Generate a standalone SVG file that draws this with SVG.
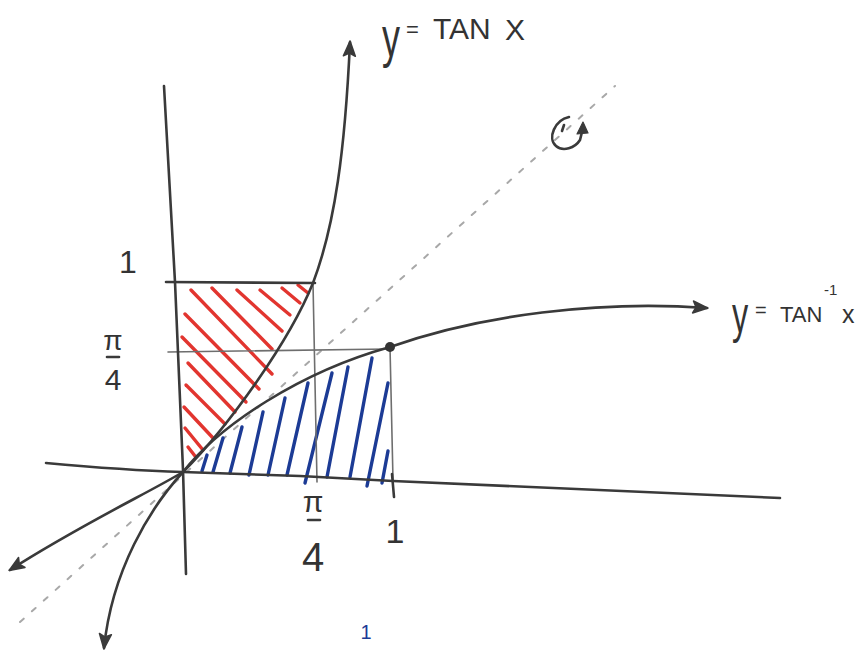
<svg xmlns="http://www.w3.org/2000/svg" width="866" height="657" viewBox="0 0 866 657">
<style>
.ink{fill:none;stroke:#3a3a3a;stroke-width:2.6;stroke-linecap:round;stroke-linejoin:round}
.thin{fill:none;stroke:#6e6e6e;stroke-width:1.6;stroke-linecap:round}
.diag{fill:none;stroke:#a8a8a8;stroke-width:2;stroke-dasharray:5 11;stroke-linecap:round}
.red line{stroke:#e2352f;stroke-width:3.4;stroke-linecap:round}
.blue line{stroke:#1c3b95;stroke-width:3.4;stroke-linecap:round}
.lbl{font-family:"Liberation Sans","DejaVu Sans",sans-serif;fill:#333}
</style>
<defs>
<marker id="ah" viewBox="-16 -8 18 16" refX="0" refY="0" markerWidth="18" markerHeight="16" markerUnits="userSpaceOnUse" orient="auto">
<path d="M1,0 L-14,-6 L-11,0 L-14,6 Z" fill="#3a3a3a" stroke="#3a3a3a" stroke-width="1.5" stroke-linejoin="round"/>
</marker>
</defs>
<rect width="866" height="657" fill="#ffffff"/>

<g id="diagonal">
<path class="diag" d="M20,622 L615,86"/>
</g>

<g id="hatch-red" class="red">
<line x1="191" y1="290" x2="272" y2="374"/>
<line x1="212" y1="288" x2="272" y2="349"/>
<line x1="237" y1="290" x2="282" y2="331"/>
<line x1="260" y1="290" x2="290" y2="315"/>
<line x1="282" y1="288" x2="300" y2="303"/>
<line x1="298" y1="285" x2="308" y2="293"/>
<line x1="185" y1="314" x2="259" y2="389"/>
<line x1="182" y1="337" x2="246" y2="402"/>
<line x1="188" y1="363" x2="235" y2="412"/>
<line x1="186" y1="385" x2="225" y2="424"/>
<line x1="184" y1="407" x2="213" y2="438"/>
<line x1="185" y1="428" x2="203" y2="450"/>
<line x1="188" y1="447" x2="195" y2="456"/>
</g>

<g id="hatch-blue" class="blue">
<line x1="202" y1="471" x2="207" y2="455"/>
<line x1="213" y1="472" x2="223" y2="438"/>
<line x1="230" y1="473" x2="242" y2="427"/>
<line x1="249" y1="475" x2="263" y2="412"/>
<line x1="268" y1="475" x2="285" y2="398"/>
<line x1="287" y1="475" x2="308" y2="383"/>
<line x1="305" y1="483" x2="332" y2="373"/>
<line x1="327" y1="477" x2="348" y2="367"/>
<line x1="350" y1="477" x2="372" y2="358"/>
<line x1="367" y1="486" x2="388" y2="383"/>
<line x1="382" y1="483" x2="388" y2="451"/>
</g>

<g id="guides">
<path class="ink" d="M166,282 L315,283"/>
<path class="thin" d="M168,352 L388,349"/>
<path class="thin" d="M313,283 L317,482"/>
<path class="thin" d="M390,347 L393,480"/>
<path class="ink" d="M392,474 L394,497"/>
</g>

<g id="axes">
<path class="ink" d="M164,86 L175,282 L183,470 L186,574"/>
<path class="ink" d="M46,463 C100,468 150,471 183,472 L300,476 L393,481 L780,498"/>
</g>

<g id="connectors">
<path id="tan-upper" class="ink" d="M183,472 C230,425 290,340 313,283 C335,225 345,150 350,42" marker-end="url(#ah)"/>
<path id="tan-lower" class="ink" d="M183,472 C150,508 112,570 104,648" marker-end="url(#ah)"/>
<path id="arctan-upper" class="ink" d="M183,472 C220,425 300,372 390,347 C480,315 600,300 707,308" marker-end="url(#ah)"/>
<path id="arctan-lower" class="ink" d="M183,472 C150,492 80,525 10,570" marker-end="url(#ah)"/>
</g>

<g id="point">
<circle cx="390" cy="347" r="5" fill="#333"/>
</g>

<g id="rotation">
<path class="ink" stroke-width="2" d="M569,117 C555,120 547,138 556,146 C563,152 575,148 580,140 L582,132"/>
<path d="M583,122 L577,134 L588,133 Z" fill="#3a3a3a" stroke="#3a3a3a" stroke-width="1.2" stroke-linejoin="round"/>
<path class="ink" stroke-width="1.8" d="M564,125 L562,131"/>
</g>

<g id="labels" class="lbl">
<text transform="translate(382,56) scale(0.9,1.4)" font-size="40">y</text>
<text x="406" y="37" font-size="22">=</text>
<text x="433" y="39" font-size="30">TAN</text>
<text x="505" y="40" font-size="30">X</text>

<text transform="translate(732,332) scale(0.9,1.45)" font-size="36">y</text>
<text x="755" y="317" font-size="20">=</text>
<text x="780" y="322" font-size="22">TAN</text>
<text x="824" y="295" font-size="15">-1</text>
<text x="842" y="323" font-size="25">x</text>

<text x="128" y="273" font-size="32" text-anchor="middle">1</text>
<text x="113" y="350" font-size="28" text-anchor="middle">π</text>
<path class="ink" stroke-width="2" d="M107,357 L119,357"/>
<text x="113" y="390" font-size="30" text-anchor="middle">4</text>

<text x="313" y="512" font-size="30" text-anchor="middle">π</text>
<path class="ink" stroke-width="2" d="M308,520 L320,520"/>
<text x="313" y="571" font-size="40" text-anchor="middle">4</text>
<text x="395" y="543" font-size="34" text-anchor="middle">1</text>

<text x="366" y="639" font-size="20" text-anchor="middle" style="fill:#1c3b95">1</text>
</g>
</svg>
